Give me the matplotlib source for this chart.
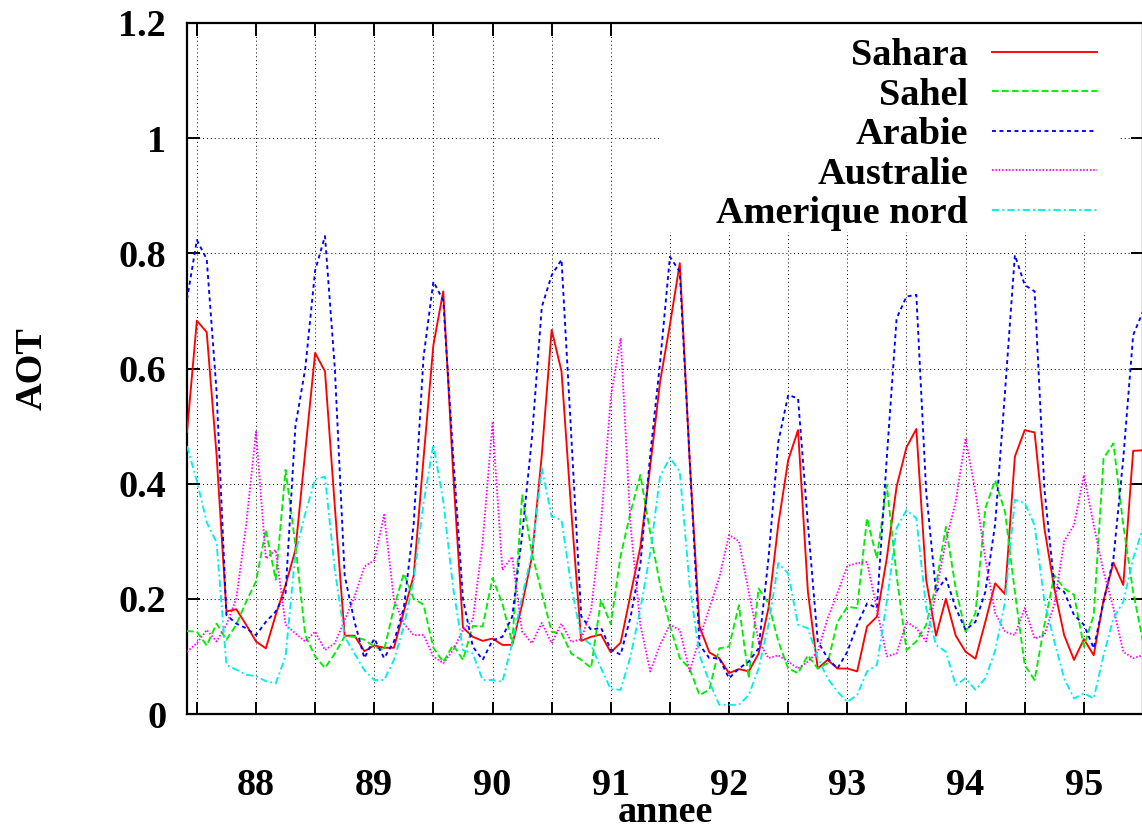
import numpy as np
import matplotlib
matplotlib.use("Agg")
import matplotlib.pyplot as plt
from matplotlib.patches import Rectangle

# Monthly AOT, June 1987 -> June 1995 (month index k, x = 87 + (5 + k)/12)
sahara = [0.49, 0.683, 0.663, 0.45, 0.178, 0.182, 0.155, 0.126, 0.114, 0.172,
          0.224, 0.285, 0.456, 0.627, 0.595, 0.36, 0.136, 0.136, 0.109, 0.119,
          0.115, 0.115, 0.178, 0.24, 0.444, 0.641, 0.734, 0.42, 0.15, 0.134,
          0.127, 0.131, 0.12, 0.12, 0.19, 0.273, 0.45, 0.667, 0.595, 0.35,
          0.127, 0.134, 0.138, 0.107, 0.124, 0.207, 0.29, 0.43, 0.577, 0.676,
          0.783, 0.44, 0.152, 0.107, 0.097, 0.071, 0.078, 0.074, 0.105, 0.184,
          0.33, 0.441, 0.493, 0.212, 0.079, 0.094, 0.079, 0.079, 0.074, 0.152,
          0.169, 0.27, 0.395, 0.463, 0.495, 0.233, 0.136, 0.2, 0.136, 0.108,
          0.096, 0.16, 0.227, 0.208, 0.447, 0.493, 0.489, 0.322, 0.218, 0.137,
          0.094, 0.13, 0.102, 0.198, 0.263, 0.224, 0.457, 0.458]
sahel = [0.144, 0.143, 0.119, 0.157, 0.129, 0.155, 0.195, 0.23, 0.32, 0.233,
         0.424, 0.294, 0.137, 0.1, 0.08, 0.105, 0.135, 0.134, 0.129, 0.117,
         0.111, 0.185, 0.244, 0.2, 0.19, 0.115, 0.09, 0.12, 0.094, 0.153,
         0.152, 0.236, 0.192, 0.123, 0.38, 0.279, 0.21, 0.143, 0.14, 0.105,
         0.094, 0.08, 0.198, 0.156, 0.275, 0.35, 0.415, 0.315, 0.225, 0.153,
         0.097, 0.079, 0.033, 0.042, 0.114, 0.117, 0.189, 0.062, 0.218, 0.192,
         0.126, 0.079, 0.071, 0.102, 0.079, 0.088, 0.16, 0.186, 0.184, 0.34,
         0.27, 0.398, 0.241, 0.111, 0.126, 0.155, 0.224, 0.325, 0.218, 0.143,
         0.175, 0.357, 0.406, 0.351, 0.212, 0.085, 0.059, 0.155, 0.241, 0.218,
         0.207, 0.117, 0.172, 0.444, 0.47, 0.328, 0.212, 0.126]
arabie = [0.72, 0.823, 0.79, 0.56, 0.172, 0.157, 0.149, 0.137, 0.16, 0.178,
          0.21, 0.5, 0.6, 0.77, 0.83, 0.6, 0.24, 0.16, 0.097, 0.131,
          0.097, 0.126, 0.184, 0.33, 0.62, 0.751, 0.718, 0.45, 0.2, 0.117,
          0.094, 0.128, 0.134, 0.169, 0.31, 0.48, 0.707, 0.762, 0.789, 0.48,
          0.17, 0.146, 0.15, 0.112, 0.103, 0.168, 0.26, 0.45, 0.61, 0.794,
          0.768, 0.444, 0.12, 0.097, 0.097, 0.062, 0.079, 0.091, 0.114, 0.27,
          0.473, 0.554, 0.548, 0.33, 0.126, 0.097, 0.079, 0.108, 0.155, 0.192,
          0.184, 0.444, 0.687, 0.725, 0.728, 0.386, 0.212, 0.236, 0.184, 0.146,
          0.16, 0.212, 0.33, 0.56, 0.797, 0.745, 0.734, 0.39, 0.224, 0.212,
          0.172, 0.155, 0.114, 0.195, 0.27, 0.444, 0.658, 0.699]
australie = [0.108, 0.123, 0.146, 0.126, 0.155, 0.2, 0.328, 0.49, 0.27, 0.285,
             0.155, 0.14, 0.126, 0.143, 0.111, 0.123, 0.163, 0.204, 0.256, 0.267,
             0.346, 0.198, 0.157, 0.137, 0.137, 0.1, 0.088, 0.111, 0.146, 0.163,
             0.3, 0.505, 0.25, 0.273, 0.143, 0.123, 0.158, 0.123, 0.157, 0.125,
             0.13, 0.18, 0.33, 0.55, 0.653, 0.328, 0.155, 0.074, 0.12, 0.155,
             0.146, 0.074, 0.131, 0.184, 0.236, 0.311, 0.3, 0.212, 0.126, 0.097,
             0.102, 0.091, 0.079, 0.091, 0.108, 0.166, 0.21, 0.257, 0.262, 0.264,
             0.182, 0.1, 0.105, 0.16, 0.149, 0.126, 0.212, 0.3, 0.369, 0.479,
             0.386, 0.27, 0.175, 0.143, 0.137, 0.184, 0.131, 0.137, 0.19, 0.3,
             0.328, 0.415, 0.328, 0.247, 0.184, 0.108, 0.097, 0.102]
amerique_nord = [0.465, 0.405, 0.333, 0.298, 0.085, 0.077, 0.068, 0.066, 0.057, 0.053,
                 0.1, 0.279, 0.348, 0.408, 0.412, 0.25, 0.134, 0.105, 0.076, 0.059,
                 0.059, 0.094, 0.152, 0.233, 0.366, 0.468, 0.37, 0.22, 0.111, 0.105,
                 0.059, 0.059, 0.056, 0.123, 0.204, 0.279, 0.427, 0.343, 0.337, 0.221,
                 0.134, 0.12, 0.08, 0.043, 0.042, 0.1, 0.182, 0.28, 0.413, 0.445,
                 0.421, 0.224, 0.102, 0.056, 0.016, 0.016, 0.016, 0.033, 0.079, 0.155,
                 0.262, 0.244, 0.155, 0.149, 0.097, 0.062, 0.039, 0.021, 0.033, 0.074,
                 0.085, 0.195, 0.323, 0.354, 0.34, 0.184, 0.12, 0.108, 0.05, 0.062,
                 0.042, 0.062, 0.11, 0.195, 0.372, 0.366, 0.328, 0.195, 0.126, 0.062,
                 0.027, 0.036, 0.027, 0.102, 0.166, 0.195, 0.27, 0.323]

labels = ["Sahara", "Sahel", "Arabie", "Australie", "Amerique nord"]
year_ticks = [88, 89, 90, 91, 92, 93, 94, 95]

x = 87 + (5 + np.arange(len(sahara))) / 12.0

plt.rcParams['font.family'] = ['Liberation Serif', 'DejaVu Serif']
plt.rcParams['font.weight'] = 'bold'
FS = 27.5

fig = plt.figure(figsize=(11.42, 8.31), dpi=100)
W, H = 1142, 831
left, right, top, bottom = 187, 1143, 23, 714
ax = fig.add_axes([left / W, 1 - bottom / H, (right - left) / W, (bottom - top) / H])

styles = [
    dict(color='#ff0000', linestyle='-'),
    dict(color='#00ee00', linestyle=(0, (3.6, 1.7))),
    dict(color='#0000ff', linestyle=(0, (2.1, 1.9))),
    dict(color='#ff00ff', linestyle=(0, (0.8, 1.0))),
    dict(color='#00eeee', linestyle=(0, (3.8, 1.7, 1.0, 1.7))),
]
series = [sahara, sahel, arabie, australie, amerique_nord]
for y, lab, st in zip(series, labels, styles):
    ax.plot(x, y, lw=1.35, label=lab, zorder=3, **st)

ax.set_xlim(x[0], x[-1])
ax.set_ylim(0, 1.2)

# ticks every half-year, labels on whole years
xt = np.arange(87.5, 95.51, 0.5)
ax.set_xticks(xt)
ax.set_xticklabels([str(int(v)) if v in year_ticks else "" for v in xt])
yt = [0, 0.2, 0.4, 0.6, 0.8, 1.0, 1.2]
ax.set_yticks(yt)
ax.set_yticklabels(["0", "0.2", "0.4", "0.6", "0.8", "1", "1.2"])
ax.tick_params(direction='in', length=9, width=1.4, top=True, right=True,
               labelsize=FS)
ax.tick_params(axis='x', pad=39)
ax.tick_params(axis='y', pad=15)

ax.set_axisbelow(True)
ax.grid(True, color='black', lw=0.7, linestyle=(0, (1, 3)))
for s in ax.spines.values():
    s.set_linewidth(1.6)

# blank key area (hides grid behind legend like gnuplot)
ax.add_patch(Rectangle(((660 - left) / (right - left), (bottom - 232) / (bottom - top)),
                       (1120 - 660) / (right - left), (232 - top) / (bottom - top),
                       transform=ax.transAxes, facecolor='white', edgecolor='none',
                       zorder=1))

ax.set_xlabel("annee", fontsize=FS, fontweight='bold')
ax.xaxis.set_label_coords(0.5, (bottom - 822) / (bottom - top))
ax.xaxis.label.set_va('baseline')
ax.set_ylabel("AOT", fontsize=FS, fontweight='bold')
ax.yaxis.set_label_coords((32 - left) / (right - left), 0.5)
ax.yaxis.label.set_va('center')

leg = ax.legend(loc='upper right', markerfirst=False, frameon=False,
                fontsize=FS, handlelength=2.75, handletextpad=0.62,
                labelspacing=0.12, borderaxespad=0, borderpad=0,
                bbox_to_anchor=((1097 - left) / (right - left), (bottom - 38) / (bottom - top)))
leg.set_zorder(5)

fig.savefig("out.png", dpi=100)
